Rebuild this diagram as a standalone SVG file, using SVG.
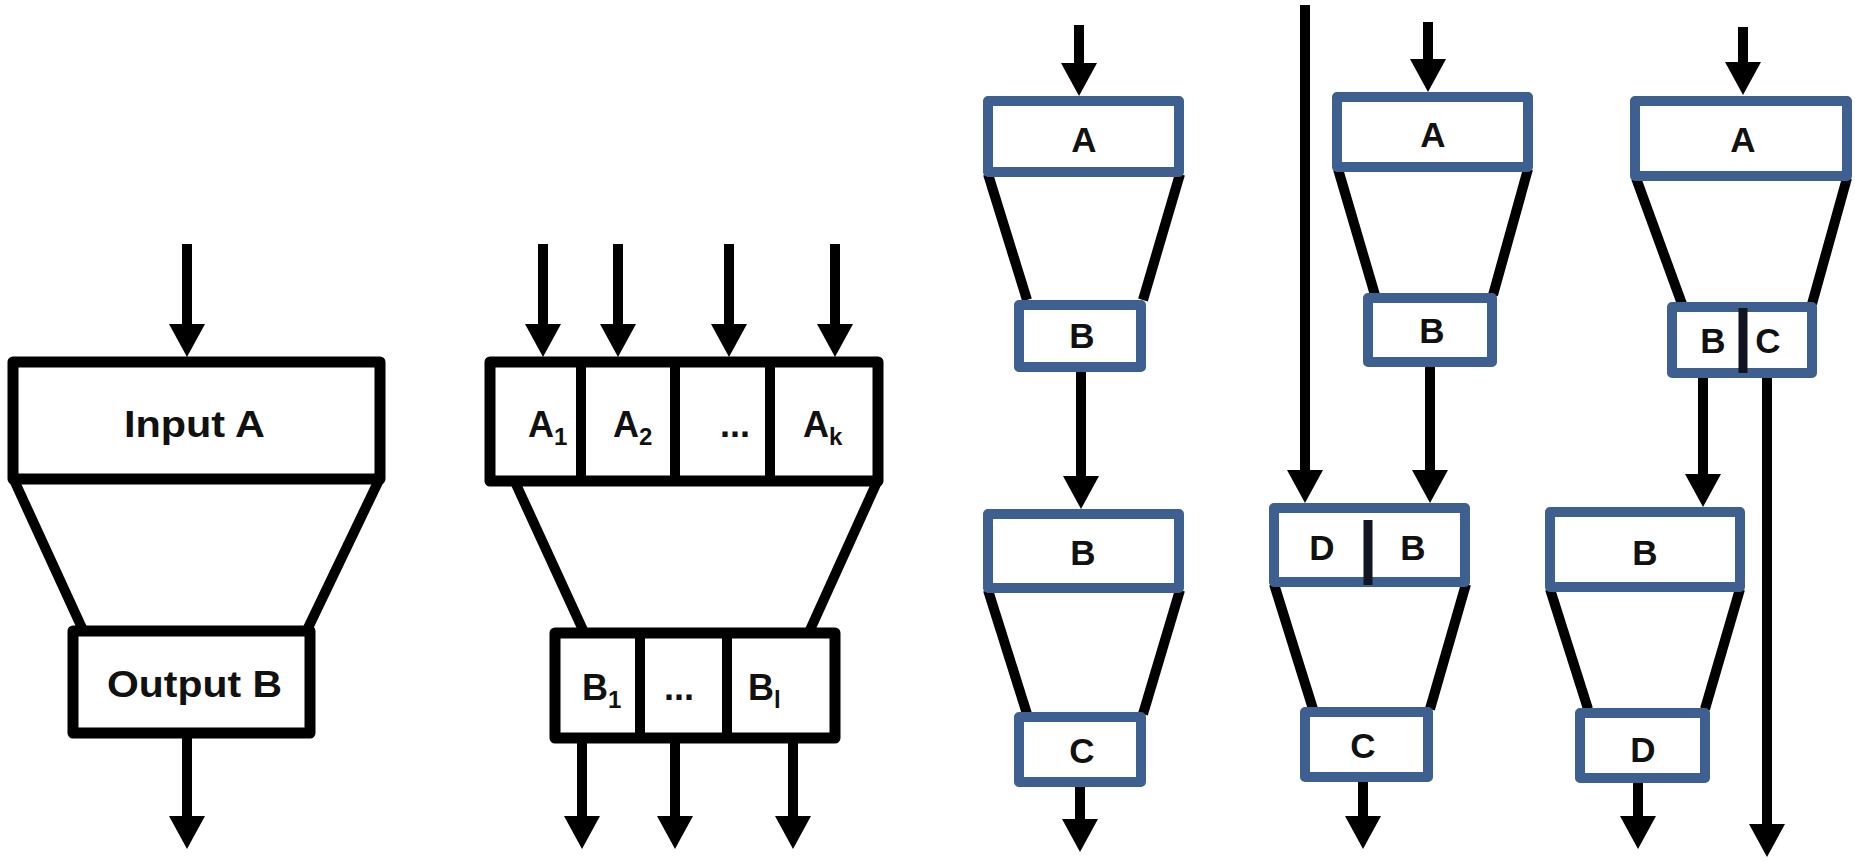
<svg xmlns="http://www.w3.org/2000/svg" width="1855" height="861" viewBox="0 0 1855 861">
  <style>
    .box-k { fill: #ffffff; stroke: #000000; stroke-width: 11; stroke-linejoin: round; }
    .box-b { fill: #ffffff; stroke: #3d6091; stroke-width: 10; stroke-linejoin: round; }
    .div-k { stroke: #000000; stroke-width: 10; }
    .div-n { stroke: #111522; stroke-width: 9; }
    .side { stroke: #000000; stroke-width: 10; stroke-linecap: butt; fill: none; }
    .shaft { stroke: #000000; stroke-width: 10; fill: none; marker-end: url(#head); }
    .lbl { font-family: "Liberation Sans", Arial, sans-serif; font-weight: bold; fill: #111111; }
    .big { font-size: 36px; }
    .mid { font-size: 35px; }
    .sub { font-size: 24px; }
  </style>
  <defs>
    <marker id="head" markerUnits="userSpaceOnUse" markerWidth="34" markerHeight="36" refX="1" refY="18" orient="auto">
      <path d="M0,0 L33,18 L0,36 Z" fill="#000000"/>
    </marker>
  </defs>
  <rect width="1855" height="861" fill="#ffffff"/>

  <!-- connectors: arrow shafts end at the arrowhead base (head length 32) -->
  <g id="connectors">
    <!-- single encoder -->
    <line class="shaft" x1="187" y1="244" x2="187" y2="325"/>
    <line class="shaft" x1="187" y1="738" x2="187" y2="817"/>
    <!-- multi-field encoder -->
    <line class="shaft" x1="543" y1="244" x2="543" y2="325"/>
    <line class="shaft" x1="618" y1="244" x2="618" y2="325"/>
    <line class="shaft" x1="729" y1="244" x2="729" y2="325"/>
    <line class="shaft" x1="835" y1="244" x2="835" y2="325"/>
    <line class="shaft" x1="582" y1="743" x2="582" y2="817"/>
    <line class="shaft" x1="675" y1="743" x2="675" y2="817"/>
    <line class="shaft" x1="793" y1="743" x2="793" y2="817"/>
    <!-- chain A -> B -> C -->
    <line class="shaft" x1="1079" y1="25" x2="1079" y2="64"/>
    <line class="shaft" x1="1081" y1="372" x2="1081" y2="477"/>
    <line class="shaft" x1="1080" y1="787" x2="1080" y2="820"/>
    <!-- chain with side input D -->
    <line class="shaft" x1="1305" y1="5" x2="1305" y2="471"/>
    <line class="shaft" x1="1428" y1="22" x2="1428" y2="60"/>
    <line class="shaft" x1="1430" y1="367" x2="1430" y2="471"/>
    <line class="shaft" x1="1363" y1="782" x2="1363" y2="817"/>
    <!-- chain with pass-through C -->
    <line class="shaft" x1="1743" y1="27" x2="1743" y2="63"/>
    <line class="shaft" x1="1703" y1="376" x2="1703" y2="475"/>
    <line class="shaft" x1="1767" y1="363" x2="1767" y2="825"/>
    <line class="shaft" x1="1638" y1="783" x2="1638" y2="817"/>
  </g>

  <!-- single encoder: Input A -> Output B -->
  <g id="enc-single">
    <line class="side" x1="14" y1="480" x2="82" y2="628"/>
    <line class="side" x1="379" y1="480" x2="308" y2="628"/>
    <rect class="box-k" x="13" y="362" width="367" height="117"/>
    <rect class="box-k" x="73" y="631" width="237" height="102"/>
    <text class="lbl" x="194.5" y="437" font-size="37" text-anchor="middle" textLength="141" lengthAdjust="spacingAndGlyphs">Input A</text>
    <text class="lbl" x="194.5" y="697" font-size="37" text-anchor="middle" textLength="175" lengthAdjust="spacingAndGlyphs">Output B</text>
  </g>

  <!-- multi-field encoder: A1..Ak -> B1..Bl -->
  <g id="enc-multi">
    <line class="side" x1="515" y1="482" x2="583" y2="630"/>
    <line class="side" x1="877" y1="482" x2="810" y2="630"/>
    <rect class="box-k" x="490" y="362" width="388" height="119"/>
    <line class="div-k" x1="581" y1="362" x2="581" y2="481"/>
    <line class="div-k" x1="675" y1="362" x2="675" y2="481"/>
    <line class="div-k" x1="770" y1="362" x2="770" y2="481"/>
    <rect class="box-k" x="555" y="633" width="280" height="105"/>
    <line class="div-k" x1="640" y1="633" x2="640" y2="738"/>
    <line class="div-k" x1="727" y1="633" x2="727" y2="738"/>
    <text class="lbl big" x="528" y="437">A<tspan class="sub" dy="8">1</tspan></text>
    <text class="lbl big" x="613" y="437">A<tspan class="sub" dy="8">2</tspan></text>
    <text class="lbl big" x="735" y="437" text-anchor="middle">...</text>
    <text class="lbl big" x="803" y="437">A<tspan class="sub" dy="8">k</tspan></text>
    <text class="lbl big" x="582" y="700">B<tspan class="sub" dy="8">1</tspan></text>
    <text class="lbl big" x="679" y="700" text-anchor="middle">...</text>
    <text class="lbl big" x="748" y="700">B<tspan class="sub" dy="8">l</tspan></text>
  </g>

  <!-- chain A -> B, then B -> C -->
  <g id="stack-a1">
    <line class="side" x1="988" y1="174" x2="1027" y2="300"/>
    <line class="side" x1="1180" y1="174" x2="1143" y2="300"/>
    <rect class="box-b" x="988" y="101" width="191" height="71"/>
    <rect class="box-b" x="1019" y="305" width="122" height="62"/>
    <text class="lbl mid" x="1084" y="152" text-anchor="middle">A</text>
    <text class="lbl mid" x="1082" y="348" text-anchor="middle">B</text>
  </g>
  <g id="stack-b1">
    <line class="side" x1="988" y1="590" x2="1027" y2="714"/>
    <line class="side" x1="1180" y1="590" x2="1143" y2="714"/>
    <rect class="box-b" x="988" y="514" width="191" height="74"/>
    <rect class="box-b" x="1019" y="717" width="122" height="65"/>
    <text class="lbl mid" x="1083" y="565" text-anchor="middle">B</text>
    <text class="lbl mid" x="1082" y="763" text-anchor="middle">C</text>
  </g>

  <!-- chain A -> B, then D|B -> C -->
  <g id="stack-a2">
    <line class="side" x1="1338" y1="169" x2="1375" y2="295"/>
    <line class="side" x1="1528" y1="169" x2="1493" y2="295"/>
    <rect class="box-b" x="1337" y="97" width="191" height="70"/>
    <rect class="box-b" x="1368" y="298" width="124" height="64"/>
    <text class="lbl mid" x="1433" y="147" text-anchor="middle">A</text>
    <text class="lbl mid" x="1432" y="343" text-anchor="middle">B</text>
  </g>
  <g id="stack-db">
    <line class="side" x1="1274" y1="584" x2="1313" y2="709"/>
    <line class="side" x1="1466" y1="584" x2="1430" y2="709"/>
    <rect class="box-b" x="1274" y="508" width="191" height="74"/>
    <line class="div-n" x1="1368" y1="520" x2="1368" y2="585"/>
    <rect class="box-b" x="1305" y="712" width="123" height="65"/>
    <text class="lbl mid" x="1322" y="560" text-anchor="middle">D</text>
    <text class="lbl mid" x="1413" y="560" text-anchor="middle">B</text>
    <text class="lbl mid" x="1363" y="758" text-anchor="middle">C</text>
  </g>

  <!-- chain A -> B|C, then B -> D -->
  <g id="stack-a3">
    <line class="side" x1="1636" y1="178" x2="1682" y2="304"/>
    <line class="side" x1="1847" y1="178" x2="1812" y2="304"/>
    <rect class="box-b" x="1635" y="101" width="212" height="75"/>
    <rect class="box-b" x="1672" y="307" width="140" height="66"/>
    <line class="div-n" x1="1743" y1="308" x2="1743" y2="373"/>
    <text class="lbl mid" x="1743" y="152" text-anchor="middle">A</text>
    <text class="lbl mid" x="1713" y="353" text-anchor="middle">B</text>
    <text class="lbl mid" x="1768" y="353" text-anchor="middle">C</text>
  </g>
  <g id="stack-b3">
    <line class="side" x1="1550" y1="589" x2="1588" y2="709"/>
    <line class="side" x1="1740" y1="589" x2="1705" y2="709"/>
    <rect class="box-b" x="1550" y="512" width="190" height="75"/>
    <rect class="box-b" x="1580" y="713" width="125" height="65"/>
    <text class="lbl mid" x="1645" y="565" text-anchor="middle">B</text>
    <text class="lbl mid" x="1643" y="762" text-anchor="middle">D</text>
  </g>
</svg>
